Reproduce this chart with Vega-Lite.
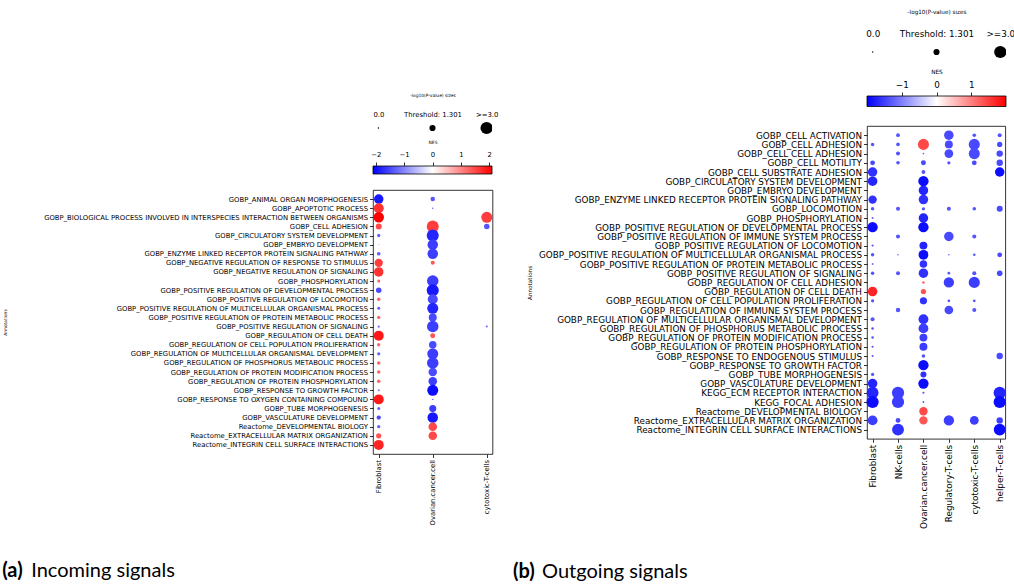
{
  "$schema": "https://vega.github.io/schema/vega-lite/v6.json",
  "background": "white",
  "padding": {"left": 2, "top": 8, "right": 0, "bottom": 0},
  "config": {
    "font": "DejaVu Sans",
    "view": {"stroke": null},
    "axis": {
      "labelFont": "DejaVu Sans",
      "titleFont": "DejaVu Sans",
      "labelColor": "black",
      "titleColor": "black",
      "tickColor": "black",
      "domainColor": "black",
      "grid": false,
      "titleFontWeight": "normal",
      "tickWidth": 0.8
    },
    "title": {"font": "Lato", "fontSize": 20, "color": "black", "orient": "bottom", "anchor": "start", "frame": "bounds"}
  },
  "datasets": {
    "incoming": [
      {"annotation": "GOBP_ANIMAL ORGAN MORPHOGENESIS", "cell": "Fibroblast", "nes": -1.9, "logp": 2.21},
      {"annotation": "GOBP_APOPTOTIC PROCESS", "cell": "Fibroblast", "nes": 1.7, "logp": 2.35},
      {"annotation": "GOBP_BIOLOGICAL PROCESS INVOLVED IN INTERSPECIES INTERACTION BETWEEN ORGANISMS", "cell": "Fibroblast", "nes": 2.1, "logp": 2.5},
      {"annotation": "GOBP_CELL ADHESION", "cell": "Fibroblast", "nes": 1.5, "logp": 1.26},
      {"annotation": "GOBP_CIRCULATORY SYSTEM DEVELOPMENT", "cell": "Fibroblast", "nes": -1.3, "logp": 0.57},
      {"annotation": "GOBP_EMBRYO DEVELOPMENT", "cell": "Fibroblast", "nes": 0.5, "logp": 0.07},
      {"annotation": "GOBP_ENZYME LINKED RECEPTOR PROTEIN SIGNALING PATHWAY", "cell": "Fibroblast", "nes": -1.3, "logp": 0.67},
      {"annotation": "GOBP_NEGATIVE REGULATION OF RESPONSE TO STIMULUS", "cell": "Fibroblast", "nes": 1.6, "logp": 1.88},
      {"annotation": "GOBP_NEGATIVE REGULATION OF SIGNALING", "cell": "Fibroblast", "nes": 1.7, "logp": 2.21},
      {"annotation": "GOBP_PHOSPHORYLATION", "cell": "Fibroblast", "nes": 1.3, "logp": 0.5},
      {"annotation": "GOBP_POSITIVE REGULATION OF DEVELOPMENTAL PROCESS", "cell": "Fibroblast", "nes": -1.5, "logp": 1.13},
      {"annotation": "GOBP_POSITIVE REGULATION OF LOCOMOTION", "cell": "Fibroblast", "nes": 1.3, "logp": 0.62},
      {"annotation": "GOBP_POSITIVE REGULATION OF MULTICELLULAR ORGANISMAL PROCESS", "cell": "Fibroblast", "nes": -1.3, "logp": 0.5},
      {"annotation": "GOBP_POSITIVE REGULATION OF PROTEIN METABOLIC PROCESS", "cell": "Fibroblast", "nes": 1.3, "logp": 0.57},
      {"annotation": "GOBP_POSITIVE REGULATION OF SIGNALING", "cell": "Fibroblast", "nes": -1.2, "logp": 0.32},
      {"annotation": "GOBP_REGULATION OF CELL DEATH", "cell": "Fibroblast", "nes": 1.9, "logp": 2.35},
      {"annotation": "GOBP_REGULATION OF CELL POPULATION PROLIFERATION", "cell": "Fibroblast", "nes": 1.3, "logp": 0.57},
      {"annotation": "GOBP_REGULATION OF MULTICELLULAR ORGANISMAL DEVELOPMENT", "cell": "Fibroblast", "nes": -1.3, "logp": 0.57},
      {"annotation": "GOBP_REGULATION OF PHOSPHORUS METABOLIC PROCESS", "cell": "Fibroblast", "nes": 1.3, "logp": 0.62},
      {"annotation": "GOBP_REGULATION OF PROTEIN MODIFICATION PROCESS", "cell": "Fibroblast", "nes": 1.3, "logp": 0.62},
      {"annotation": "GOBP_REGULATION OF PROTEIN PHOSPHORYLATION", "cell": "Fibroblast", "nes": 1.3, "logp": 0.62},
      {"annotation": "GOBP_RESPONSE TO GROWTH FACTOR", "cell": "Fibroblast", "nes": -1.2, "logp": 0.24},
      {"annotation": "GOBP_RESPONSE TO OXYGEN CONTAINING COMPOUND", "cell": "Fibroblast", "nes": 1.9, "logp": 2.35},
      {"annotation": "GOBP_TUBE MORPHOGENESIS", "cell": "Fibroblast", "nes": -1.3, "logp": 0.5},
      {"annotation": "GOBP_VASCULATURE DEVELOPMENT", "cell": "Fibroblast", "nes": -1.5, "logp": 0.83},
      {"annotation": "Reactome_DEVELOPMENTAL BIOLOGY", "cell": "Fibroblast", "nes": -1.3, "logp": 0.57},
      {"annotation": "Reactome_EXTRACELLULAR MATRIX ORGANIZATION", "cell": "Fibroblast", "nes": 1.4, "logp": 1.08},
      {"annotation": "Reactome_INTEGRIN CELL SURFACE INTERACTIONS", "cell": "Fibroblast", "nes": 1.8, "logp": 2.35},
      {"annotation": "GOBP_ANIMAL ORGAN MORPHOGENESIS", "cell": "Ovarian.cancer.cell", "nes": -1.4, "logp": 0.88},
      {"annotation": "GOBP_APOPTOTIC PROCESS", "cell": "Ovarian.cancer.cell", "nes": -1.3, "logp": 0.05},
      {"annotation": "GOBP_CELL ADHESION", "cell": "Ovarian.cancer.cell", "nes": 1.6, "logp": 2.93},
      {"annotation": "GOBP_CIRCULATORY SYSTEM DEVELOPMENT", "cell": "Ovarian.cancer.cell", "nes": -1.8, "logp": 2.93},
      {"annotation": "GOBP_EMBRYO DEVELOPMENT", "cell": "Ovarian.cancer.cell", "nes": -1.6, "logp": 2.5},
      {"annotation": "GOBP_ENZYME LINKED RECEPTOR PROTEIN SIGNALING PATHWAY", "cell": "Ovarian.cancer.cell", "nes": -1.6, "logp": 2.5},
      {"annotation": "GOBP_NEGATIVE REGULATION OF RESPONSE TO STIMULUS", "cell": "Ovarian.cancer.cell", "nes": 1.4, "logp": 0.75},
      {"annotation": "GOBP_PHOSPHORYLATION", "cell": "Ovarian.cancer.cell", "nes": -1.6, "logp": 2.78},
      {"annotation": "GOBP_POSITIVE REGULATION OF DEVELOPMENTAL PROCESS", "cell": "Ovarian.cancer.cell", "nes": -1.9, "logp": 2.93},
      {"annotation": "GOBP_POSITIVE REGULATION OF LOCOMOTION", "cell": "Ovarian.cancer.cell", "nes": -1.5, "logp": 2.35},
      {"annotation": "GOBP_POSITIVE REGULATION OF MULTICELLULAR ORGANISMAL PROCESS", "cell": "Ovarian.cancer.cell", "nes": -1.8, "logp": 2.64},
      {"annotation": "GOBP_POSITIVE REGULATION OF PROTEIN METABOLIC PROCESS", "cell": "Ovarian.cancer.cell", "nes": -1.5, "logp": 1.8},
      {"annotation": "GOBP_POSITIVE REGULATION OF SIGNALING", "cell": "Ovarian.cancer.cell", "nes": -1.6, "logp": 2.78},
      {"annotation": "GOBP_REGULATION OF CELL DEATH", "cell": "Ovarian.cancer.cell", "nes": 1.4, "logp": 1.0},
      {"annotation": "GOBP_REGULATION OF CELL POPULATION PROLIFERATION", "cell": "Ovarian.cancer.cell", "nes": -1.5, "logp": 1.66},
      {"annotation": "GOBP_REGULATION OF MULTICELLULAR ORGANISMAL DEVELOPMENT", "cell": "Ovarian.cancer.cell", "nes": -1.6, "logp": 2.64},
      {"annotation": "GOBP_REGULATION OF PHOSPHORUS METABOLIC PROCESS", "cell": "Ovarian.cancer.cell", "nes": -1.6, "logp": 2.78},
      {"annotation": "GOBP_REGULATION OF PROTEIN MODIFICATION PROCESS", "cell": "Ovarian.cancer.cell", "nes": -1.5, "logp": 1.94},
      {"annotation": "GOBP_REGULATION OF PROTEIN PHOSPHORYLATION", "cell": "Ovarian.cancer.cell", "nes": -1.6, "logp": 1.94},
      {"annotation": "GOBP_RESPONSE TO GROWTH FACTOR", "cell": "Ovarian.cancer.cell", "nes": -2.0, "logp": 2.64},
      {"annotation": "GOBP_RESPONSE TO OXYGEN CONTAINING COMPOUND", "cell": "Ovarian.cancer.cell", "nes": -1.3, "logp": 0.05},
      {"annotation": "GOBP_TUBE MORPHOGENESIS", "cell": "Ovarian.cancer.cell", "nes": -1.6, "logp": 1.53},
      {"annotation": "GOBP_VASCULATURE DEVELOPMENT", "cell": "Ovarian.cancer.cell", "nes": -1.9, "logp": 2.5},
      {"annotation": "Reactome_DEVELOPMENTAL BIOLOGY", "cell": "Ovarian.cancer.cell", "nes": 1.5, "logp": 1.94},
      {"annotation": "Reactome_EXTRACELLULAR MATRIX ORGANIZATION", "cell": "Ovarian.cancer.cell", "nes": 1.5, "logp": 1.94},
      {"annotation": "GOBP_BIOLOGICAL PROCESS INVOLVED IN INTERSPECIES INTERACTION BETWEEN ORGANISMS", "cell": "cytotoxic-T-cells", "nes": 1.6, "logp": 2.64},
      {"annotation": "GOBP_CELL ADHESION", "cell": "cytotoxic-T-cells", "nes": -1.4, "logp": 1.13},
      {"annotation": "GOBP_POSITIVE REGULATION OF SIGNALING", "cell": "cytotoxic-T-cells", "nes": -1.3, "logp": 0.24}
    ],
    "outgoing": [
      {"annotation": "GOBP_CELL ACTIVATION", "cell": "NK-cells", "nes": -1.4, "logp": 0.7},
      {"annotation": "GOBP_CELL ACTIVATION", "cell": "Regulatory-T-cells", "nes": -1.5, "logp": 2.21},
      {"annotation": "GOBP_CELL ACTIVATION", "cell": "cytotoxic-T-cells", "nes": -1.4, "logp": 0.66},
      {"annotation": "GOBP_CELL ACTIVATION", "cell": "helper-T-cells", "nes": -1.4, "logp": 0.76},
      {"annotation": "GOBP_CELL ADHESION", "cell": "Fibroblast", "nes": -1.4, "logp": 0.62},
      {"annotation": "GOBP_CELL ADHESION", "cell": "NK-cells", "nes": -1.4, "logp": 0.66},
      {"annotation": "GOBP_CELL ADHESION", "cell": "Ovarian.cancer.cell", "nes": 1.5, "logp": 2.66},
      {"annotation": "GOBP_CELL ADHESION", "cell": "Regulatory-T-cells", "nes": -1.5, "logp": 1.78},
      {"annotation": "GOBP_CELL ADHESION", "cell": "cytotoxic-T-cells", "nes": -1.5, "logp": 2.66},
      {"annotation": "GOBP_CELL ADHESION", "cell": "helper-T-cells", "nes": -1.5, "logp": 1.06},
      {"annotation": "GOBP_CELL CELL ADHESION", "cell": "NK-cells", "nes": -1.4, "logp": 0.76},
      {"annotation": "GOBP_CELL CELL ADHESION", "cell": "Ovarian.cancer.cell", "nes": -1.4, "logp": 0.11},
      {"annotation": "GOBP_CELL CELL ADHESION", "cell": "Regulatory-T-cells", "nes": -1.5, "logp": 2.0},
      {"annotation": "GOBP_CELL CELL ADHESION", "cell": "cytotoxic-T-cells", "nes": -1.5, "logp": 2.66},
      {"annotation": "GOBP_CELL CELL ADHESION", "cell": "helper-T-cells", "nes": -1.5, "logp": 1.36},
      {"annotation": "GOBP_CELL MOTILITY", "cell": "Fibroblast", "nes": -1.5, "logp": 0.96},
      {"annotation": "GOBP_CELL MOTILITY", "cell": "NK-cells", "nes": -1.4, "logp": 0.66},
      {"annotation": "GOBP_CELL MOTILITY", "cell": "Ovarian.cancer.cell", "nes": -1.5, "logp": 1.0},
      {"annotation": "GOBP_CELL MOTILITY", "cell": "Regulatory-T-cells", "nes": -1.4, "logp": 0.57},
      {"annotation": "GOBP_CELL MOTILITY", "cell": "cytotoxic-T-cells", "nes": -1.5, "logp": 0.96},
      {"annotation": "GOBP_CELL MOTILITY", "cell": "helper-T-cells", "nes": -1.5, "logp": 1.36},
      {"annotation": "GOBP_CELL SUBSTRATE ADHESION", "cell": "Fibroblast", "nes": -1.7, "logp": 2.21},
      {"annotation": "GOBP_CELL SUBSTRATE ADHESION", "cell": "Ovarian.cancer.cell", "nes": -1.4, "logp": 0.7},
      {"annotation": "GOBP_CELL SUBSTRATE ADHESION", "cell": "helper-T-cells", "nes": -2.0, "logp": 2.21},
      {"annotation": "GOBP_CIRCULATORY SYSTEM DEVELOPMENT", "cell": "Fibroblast", "nes": -1.8, "logp": 2.21},
      {"annotation": "GOBP_CIRCULATORY SYSTEM DEVELOPMENT", "cell": "Ovarian.cancer.cell", "nes": -2.0, "logp": 2.44},
      {"annotation": "GOBP_EMBRYO DEVELOPMENT", "cell": "Ovarian.cancer.cell", "nes": -1.8, "logp": 2.21},
      {"annotation": "GOBP_ENZYME LINKED RECEPTOR PROTEIN SIGNALING PATHWAY", "cell": "Fibroblast", "nes": -1.7, "logp": 1.9},
      {"annotation": "GOBP_ENZYME LINKED RECEPTOR PROTEIN SIGNALING PATHWAY", "cell": "Ovarian.cancer.cell", "nes": -1.7, "logp": 2.21},
      {"annotation": "GOBP_LOCOMOTION", "cell": "Fibroblast", "nes": -1.4, "logp": 0.62},
      {"annotation": "GOBP_LOCOMOTION", "cell": "NK-cells", "nes": -1.4, "logp": 0.76},
      {"annotation": "GOBP_LOCOMOTION", "cell": "Ovarian.cancer.cell", "nes": -1.4, "logp": 0.57},
      {"annotation": "GOBP_LOCOMOTION", "cell": "Regulatory-T-cells", "nes": -1.4, "logp": 0.76},
      {"annotation": "GOBP_LOCOMOTION", "cell": "cytotoxic-T-cells", "nes": -1.4, "logp": 0.66},
      {"annotation": "GOBP_LOCOMOTION", "cell": "helper-T-cells", "nes": -1.5, "logp": 1.26},
      {"annotation": "GOBP_PHOSPHORYLATION", "cell": "Fibroblast", "nes": -1.3, "logp": 0.24},
      {"annotation": "GOBP_PHOSPHORYLATION", "cell": "Ovarian.cancer.cell", "nes": -1.8, "logp": 2.21},
      {"annotation": "GOBP_POSITIVE REGULATION OF DEVELOPMENTAL PROCESS", "cell": "Fibroblast", "nes": -2.0, "logp": 2.44},
      {"annotation": "GOBP_POSITIVE REGULATION OF DEVELOPMENTAL PROCESS", "cell": "Ovarian.cancer.cell", "nes": -2.0, "logp": 2.44},
      {"annotation": "GOBP_POSITIVE REGULATION OF IMMUNE SYSTEM PROCESS", "cell": "NK-cells", "nes": -1.4, "logp": 0.76},
      {"annotation": "GOBP_POSITIVE REGULATION OF IMMUNE SYSTEM PROCESS", "cell": "Regulatory-T-cells", "nes": -1.5, "logp": 2.21},
      {"annotation": "GOBP_POSITIVE REGULATION OF IMMUNE SYSTEM PROCESS", "cell": "cytotoxic-T-cells", "nes": -1.4, "logp": 0.76},
      {"annotation": "GOBP_POSITIVE REGULATION OF LOCOMOTION", "cell": "Fibroblast", "nes": -1.3, "logp": 0.32},
      {"annotation": "GOBP_POSITIVE REGULATION OF LOCOMOTION", "cell": "Ovarian.cancer.cell", "nes": -1.8, "logp": 1.78},
      {"annotation": "GOBP_POSITIVE REGULATION OF MULTICELLULAR ORGANISMAL PROCESS", "cell": "Fibroblast", "nes": -1.4, "logp": 0.62},
      {"annotation": "GOBP_POSITIVE REGULATION OF MULTICELLULAR ORGANISMAL PROCESS", "cell": "NK-cells", "nes": -1.3, "logp": 0.11},
      {"annotation": "GOBP_POSITIVE REGULATION OF MULTICELLULAR ORGANISMAL PROCESS", "cell": "Ovarian.cancer.cell", "nes": -2.0, "logp": 2.3},
      {"annotation": "GOBP_POSITIVE REGULATION OF MULTICELLULAR ORGANISMAL PROCESS", "cell": "Regulatory-T-cells", "nes": -1.3, "logp": 0.11},
      {"annotation": "GOBP_POSITIVE REGULATION OF MULTICELLULAR ORGANISMAL PROCESS", "cell": "cytotoxic-T-cells", "nes": -1.4, "logp": 0.38},
      {"annotation": "GOBP_POSITIVE REGULATION OF MULTICELLULAR ORGANISMAL PROCESS", "cell": "helper-T-cells", "nes": -1.5, "logp": 0.96},
      {"annotation": "GOBP_POSITIVE REGULATION OF PROTEIN METABOLIC PROCESS", "cell": "Fibroblast", "nes": -1.3, "logp": 0.18},
      {"annotation": "GOBP_POSITIVE REGULATION OF PROTEIN METABOLIC PROCESS", "cell": "Ovarian.cancer.cell", "nes": -1.7, "logp": 1.68},
      {"annotation": "GOBP_POSITIVE REGULATION OF SIGNALING", "cell": "Fibroblast", "nes": -1.4, "logp": 0.62},
      {"annotation": "GOBP_POSITIVE REGULATION OF SIGNALING", "cell": "NK-cells", "nes": -1.4, "logp": 0.76},
      {"annotation": "GOBP_POSITIVE REGULATION OF SIGNALING", "cell": "Ovarian.cancer.cell", "nes": -1.7, "logp": 2.21},
      {"annotation": "GOBP_POSITIVE REGULATION OF SIGNALING", "cell": "Regulatory-T-cells", "nes": -1.4, "logp": 0.43},
      {"annotation": "GOBP_POSITIVE REGULATION OF SIGNALING", "cell": "cytotoxic-T-cells", "nes": -1.4, "logp": 0.76},
      {"annotation": "GOBP_POSITIVE REGULATION OF SIGNALING", "cell": "helper-T-cells", "nes": -1.5, "logp": 1.16},
      {"annotation": "GOBP_REGULATION OF CELL ADHESION", "cell": "Ovarian.cancer.cell", "nes": 1.3, "logp": 0.38},
      {"annotation": "GOBP_REGULATION OF CELL ADHESION", "cell": "Regulatory-T-cells", "nes": -1.6, "logp": 2.44},
      {"annotation": "GOBP_REGULATION OF CELL ADHESION", "cell": "cytotoxic-T-cells", "nes": -1.6, "logp": 2.66},
      {"annotation": "GOBP_REGULATION OF CELL DEATH", "cell": "Fibroblast", "nes": 1.8, "logp": 2.21},
      {"annotation": "GOBP_REGULATION OF CELL DEATH", "cell": "Ovarian.cancer.cell", "nes": 1.45, "logp": 1.06},
      {"annotation": "GOBP_REGULATION OF CELL POPULATION PROLIFERATION", "cell": "Fibroblast", "nes": -1.4, "logp": 0.57},
      {"annotation": "GOBP_REGULATION OF CELL POPULATION PROLIFERATION", "cell": "Ovarian.cancer.cell", "nes": -1.7, "logp": 1.57},
      {"annotation": "GOBP_REGULATION OF CELL POPULATION PROLIFERATION", "cell": "Regulatory-T-cells", "nes": -1.4, "logp": 0.43},
      {"annotation": "GOBP_REGULATION OF CELL POPULATION PROLIFERATION", "cell": "cytotoxic-T-cells", "nes": -1.4, "logp": 0.43},
      {"annotation": "GOBP_REGULATION OF IMMUNE SYSTEM PROCESS", "cell": "NK-cells", "nes": -1.4, "logp": 0.86},
      {"annotation": "GOBP_REGULATION OF IMMUNE SYSTEM PROCESS", "cell": "Regulatory-T-cells", "nes": -1.5, "logp": 2.0},
      {"annotation": "GOBP_REGULATION OF IMMUNE SYSTEM PROCESS", "cell": "cytotoxic-T-cells", "nes": -1.4, "logp": 0.76},
      {"annotation": "GOBP_REGULATION OF MULTICELLULAR ORGANISMAL DEVELOPMENT", "cell": "Fibroblast", "nes": -1.4, "logp": 0.76},
      {"annotation": "GOBP_REGULATION OF MULTICELLULAR ORGANISMAL DEVELOPMENT", "cell": "Ovarian.cancer.cell", "nes": -1.7, "logp": 2.3},
      {"annotation": "GOBP_REGULATION OF PHOSPHORUS METABOLIC PROCESS", "cell": "Fibroblast", "nes": -1.4, "logp": 0.38},
      {"annotation": "GOBP_REGULATION OF PHOSPHORUS METABOLIC PROCESS", "cell": "Ovarian.cancer.cell", "nes": -1.6, "logp": 2.3},
      {"annotation": "GOBP_REGULATION OF PROTEIN MODIFICATION PROCESS", "cell": "Fibroblast", "nes": -1.4, "logp": 0.38},
      {"annotation": "GOBP_REGULATION OF PROTEIN MODIFICATION PROCESS", "cell": "Ovarian.cancer.cell", "nes": -1.6, "logp": 1.78},
      {"annotation": "GOBP_REGULATION OF PROTEIN PHOSPHORYLATION", "cell": "Fibroblast", "nes": -1.4, "logp": 0.28},
      {"annotation": "GOBP_REGULATION OF PROTEIN PHOSPHORYLATION", "cell": "Ovarian.cancer.cell", "nes": -1.6, "logp": 1.78},
      {"annotation": "GOBP_RESPONSE TO ENDOGENOUS STIMULUS", "cell": "Fibroblast", "nes": -1.4, "logp": 0.24},
      {"annotation": "GOBP_RESPONSE TO ENDOGENOUS STIMULUS", "cell": "Ovarian.cancer.cell", "nes": -1.4, "logp": 0.66},
      {"annotation": "GOBP_RESPONSE TO ENDOGENOUS STIMULUS", "cell": "helper-T-cells", "nes": -1.5, "logp": 1.36},
      {"annotation": "GOBP_RESPONSE TO GROWTH FACTOR", "cell": "Ovarian.cancer.cell", "nes": -2.0, "logp": 2.44},
      {"annotation": "GOBP_TUBE MORPHOGENESIS", "cell": "Fibroblast", "nes": -1.4, "logp": 0.57},
      {"annotation": "GOBP_TUBE MORPHOGENESIS", "cell": "Ovarian.cancer.cell", "nes": -1.7, "logp": 1.26},
      {"annotation": "GOBP_VASCULATURE DEVELOPMENT", "cell": "Fibroblast", "nes": -1.8, "logp": 2.21},
      {"annotation": "GOBP_VASCULATURE DEVELOPMENT", "cell": "Ovarian.cancer.cell", "nes": -2.0, "logp": 2.44},
      {"annotation": "KEGG_ECM RECEPTOR INTERACTION", "cell": "Fibroblast", "nes": -1.8, "logp": 2.89},
      {"annotation": "KEGG_ECM RECEPTOR INTERACTION", "cell": "NK-cells", "nes": -1.6, "logp": 3.0},
      {"annotation": "KEGG_ECM RECEPTOR INTERACTION", "cell": "Ovarian.cancer.cell", "nes": -1.4, "logp": 0.28},
      {"annotation": "KEGG_ECM RECEPTOR INTERACTION", "cell": "helper-T-cells", "nes": -1.8, "logp": 3.0},
      {"annotation": "KEGG_FOCAL ADHESION", "cell": "Fibroblast", "nes": -2.0, "logp": 3.0},
      {"annotation": "KEGG_FOCAL ADHESION", "cell": "NK-cells", "nes": -1.6, "logp": 3.0},
      {"annotation": "KEGG_FOCAL ADHESION", "cell": "Ovarian.cancer.cell", "nes": -1.4, "logp": 0.18},
      {"annotation": "KEGG_FOCAL ADHESION", "cell": "helper-T-cells", "nes": -2.0, "logp": 3.0},
      {"annotation": "Reactome_DEVELOPMENTAL BIOLOGY", "cell": "Ovarian.cancer.cell", "nes": 1.5, "logp": 1.9},
      {"annotation": "Reactome_EXTRACELLULAR MATRIX ORGANIZATION", "cell": "Fibroblast", "nes": -1.6, "logp": 2.3},
      {"annotation": "Reactome_EXTRACELLULAR MATRIX ORGANIZATION", "cell": "NK-cells", "nes": -1.5, "logp": 0.96},
      {"annotation": "Reactome_EXTRACELLULAR MATRIX ORGANIZATION", "cell": "Ovarian.cancer.cell", "nes": 1.4, "logp": 1.9},
      {"annotation": "Reactome_EXTRACELLULAR MATRIX ORGANIZATION", "cell": "Regulatory-T-cells", "nes": -1.6, "logp": 2.44},
      {"annotation": "Reactome_EXTRACELLULAR MATRIX ORGANIZATION", "cell": "cytotoxic-T-cells", "nes": -1.6, "logp": 2.0},
      {"annotation": "Reactome_EXTRACELLULAR MATRIX ORGANIZATION", "cell": "helper-T-cells", "nes": -1.6, "logp": 1.36},
      {"annotation": "Reactome_INTEGRIN CELL SURFACE INTERACTIONS", "cell": "NK-cells", "nes": -1.7, "logp": 2.89},
      {"annotation": "Reactome_INTEGRIN CELL SURFACE INTERACTIONS", "cell": "helper-T-cells", "nes": -2.0, "logp": 2.89}
    ],
    "sizekey": [
      {"label": "0.0", "logp": 0},
      {"label": "Threshold: 1.301", "logp": 1.301},
      {"label": ">=3.0", "logp": 3}
    ]
  },
  "spacing": 15,
  "hconcat": [
    {
      "title": {"text": "Incoming signals", "fontWeight": "normal", "dx": 29, "offset": -20},
      "vconcat": [
        {
          "title": {"text": "(a)", "fontWeight": "bold", "offset": 36},
          "bounds": "flush",
          "spacing": 16,
          "vconcat": [
            {
              "width": 119,
              "height": 63,
              "data": {"values": []},
              "mark": {"type": "point", "opacity": 0},
              "encoding": {}
            },
            {
              "width": 119,
              "height": 44,
              "data": {"name": "sizekey"},
              "mark": {"type": "circle", "color": "black", "opacity": 1, "clip": true},
              "encoding": {
                "x": {
                  "field": "label", "type": "nominal",
                  "scale": {"type": "point", "padding": 0.1, "domain": ["0.0", "Threshold: 1.301", ">=3.0"]},
                  "axis": {"orient": "top", "title": "-log10(P-value) sizes", "titleFontSize": 4.4, "titlePadding": 9,
                           "ticks": false, "domain": false, "labelAngle": 0, "labelOverlap": false,
                           "labelFontSize": 6.85, "labelPadding": -11}
                },
                "size": {
                  "field": "logp", "type": "quantitative",
                  "scale": {"type": "pow", "exponent": 1.7, "domain": [0, 3], "range": [2, 150], "clamp": true},
                  "legend": null
                }
              }
            },
            {
              "width": 119,
              "height": 8,
              "data": {"values": [{"lo": -2.1, "hi": 2.1}]},
              "mark": {
                "type": "rect", "stroke": "black", "strokeWidth": 0.8,
                "color": {"gradient": "linear", "x1": 0, "x2": 1, "y1": 0, "y2": 0,
                          "stops": [{"offset": 0, "color": "#0000ff"}, {"offset": 0.5, "color": "#ffffff"}, {"offset": 1, "color": "#ff0000"}]}
              },
              "encoding": {
                "x": {
                  "field": "lo", "type": "quantitative",
                  "scale": {"domain": [-2.1, 2.1], "nice": false, "zero": false},
                  "axis": {"orient": "top", "values": [-2, -1, 0, 1, 2], "title": "NES", "titleFontSize": 4.4, "titlePadding": 7,
                           "labelFontSize": 6.85, "tickSize": 4, "labelPadding": 5, "domain": false, "labelFlush": false}
                },
                "x2": {"field": "hi"}
              }
            },
            {
              "width": 119.5,
              "height": 264,
              "view": {"stroke": "black", "strokeWidth": 0.8},
              "data": {"name": "incoming"},
              "mark": {"type": "circle", "opacity": 1},
              "encoding": {
                "x": {
                  "field": "cell", "type": "nominal",
                  "scale": {"type": "point", "padding": 0.106},
                  "axis": {"title": null, "labelAngle": 270, "labelAlign": "right", "labelBaseline": "middle",
                           "labelFontSize": 6.85, "tickSize": 3.5, "labelPadding": 2, "domain": false}
                },
                "y": {
                  "field": "annotation", "type": "nominal",
                  "scale": {"type": "point", "padding": 1.27},
                  "axis": {"title": "Annotations", "titleFontSize": 4.4, "titlePadding": 36, "maxExtent": 1000,
                           "labelFontSize": 6.85, "labelLimit": 1000, "tickSize": 3.5, "labelPadding": 2, "domain": false}
                },
                "size": {
                  "field": "logp", "type": "quantitative",
                  "scale": {"type": "pow", "exponent": 1.7, "domain": [0, 3], "range": [2, 150], "clamp": true},
                  "legend": null
                },
                "color": {
                  "field": "nes", "type": "quantitative",
                  "scale": {"domain": [-2.1, 0, 2.1], "range": ["#0000ff", "#ffffff", "#ff0000"], "interpolate": "rgb", "clamp": true},
                  "legend": null
                }
              }
            }
          ]
        }
      ]
    },
    {
      "title": {"text": "Outgoing signals", "fontWeight": "normal", "dx": 29, "offset": -20},
      "vconcat": [
        {
          "title": {"text": "(b)", "fontWeight": "bold", "offset": 33, "dx": -13},
          "bounds": "flush",
          "spacing": 19,
          "vconcat": [
            {
              "width": 139,
              "height": 50,
              "data": {"name": "sizekey"},
              "mark": {"type": "circle", "color": "black", "opacity": 1, "clip": true},
              "encoding": {
                "x": {
                  "field": "label", "type": "nominal",
                  "scale": {"type": "point", "padding": 0.09, "domain": ["0.0", "Threshold: 1.301", ">=3.0"]},
                  "axis": {"orient": "top", "title": "-log10(P-value) sizes", "titleFontSize": 5.7, "titlePadding": 13,
                           "ticks": false, "domain": false, "labelAngle": 0, "labelOverlap": false,
                           "labelFontSize": 8.8, "labelPadding": -11.5}
                },
                "size": {
                  "field": "logp", "type": "quantitative",
                  "scale": {"type": "pow", "exponent": 1.7, "domain": [0, 3], "range": [2, 240], "clamp": true},
                  "legend": null
                }
              }
            },
            {
              "width": 139,
              "height": 10.5,
              "data": {"values": [{"lo": -2.0, "hi": 2.0}]},
              "mark": {
                "type": "rect", "stroke": "black", "strokeWidth": 0.8,
                "color": {"gradient": "linear", "x1": 0, "x2": 1, "y1": 0, "y2": 0,
                          "stops": [{"offset": 0, "color": "#0000ff"}, {"offset": 0.5, "color": "#ffffff"}, {"offset": 1, "color": "#ff0000"}]}
              },
              "encoding": {
                "x": {
                  "field": "lo", "type": "quantitative",
                  "scale": {"domain": [-2.0, 2.0], "nice": false, "zero": false},
                  "axis": {"orient": "top", "values": [-1, 0, 1], "title": "NES", "titleFontSize": 5.7, "titlePadding": 6,
                           "labelFontSize": 8.8, "tickSize": 4, "labelPadding": 3, "domain": false, "labelFlush": false}
                },
                "x2": {"field": "hi"}
              }
            },
            {
              "width": 138.3,
              "height": 312.8,
              "view": {"stroke": "black", "strokeWidth": 0.8},
              "data": {"name": "outgoing"},
              "mark": {"type": "circle", "opacity": 1},
              "encoding": {
                "x": {
                  "field": "cell", "type": "nominal",
                  "scale": {"type": "point", "padding": 0.22},
                  "axis": {"title": null, "labelAngle": 270, "labelAlign": "right", "labelBaseline": "middle",
                           "labelFontSize": 8.8, "tickSize": 3.5, "labelPadding": 2, "domain": false}
                },
                "y": {
                  "field": "annotation", "type": "nominal",
                  "scale": {"type": "point", "padding": 1.6},
                  "axis": {"title": "Annotations", "titleFontSize": 5.7, "titlePadding": 6, "maxExtent": 1000,
                           "labelFontSize": 8.8, "labelLimit": 1000, "tickSize": 3.5, "labelPadding": 2, "domain": false}
                },
                "size": {
                  "field": "logp", "type": "quantitative",
                  "scale": {"type": "pow", "exponent": 1.7, "domain": [0, 3], "range": [2, 240], "clamp": true},
                  "legend": null
                },
                "color": {
                  "field": "nes", "type": "quantitative",
                  "scale": {"domain": [-2.0, 0, 2.0], "range": ["#0000ff", "#ffffff", "#ff0000"], "interpolate": "rgb", "clamp": true},
                  "legend": null
                }
              }
            }
          ]
        }
      ]
    }
  ]
}
